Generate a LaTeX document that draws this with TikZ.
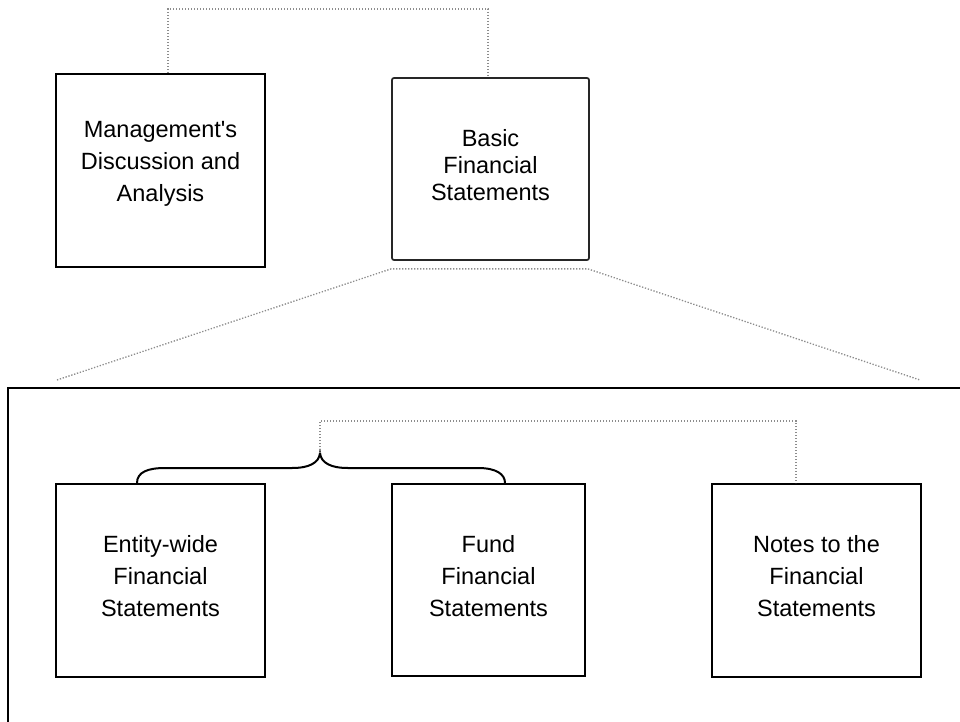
\documentclass[tikz,border=0pt]{standalone}
\usepackage{fontspec}
\setmainfont{Liberation Sans}[Ligatures=TeXOff]
\usetikzlibrary{calc}
\begin{document}
\begin{tikzpicture}[x=1pt,y=-1pt,
  box/.style={draw=black, line width=2pt, rectangle, inner sep=0pt},
  txt/.style={align=center, inner sep=0pt, font=\fontsize{23.5}{32}\selectfont},
  conn/.style={draw=black!45, line width=1.3pt, dash pattern=on 1.3pt off 1.7pt},
  bracestyle/.style={draw=black, line width=2pt}]
\useasboundingbox (0,0) rectangle (960,722);
\clip (0,0) rectangle (960,722);
\fill[white] (0,0) rectangle (960,722);
% big frame
\draw[line width=2pt] (8,388) rectangle (1000,780);
% top boxes
\node[box, minimum width=209pt, minimum height=193pt] (mda) at (160.5,170.5) {};
\node[txt] (mdat) at (160.5,164) {Management's\\Discussion and\\Analysis};
\node[box, draw=black!85, line width=1.7pt, rounded corners=2pt, minimum width=197pt, minimum height=182pt] (basic) at (490.5,169) {};
\node[txt, font=\fontsize{23.5}{27}\selectfont] (basict) at (490.5,165.5) {Basic\\Financial\\Statements};
% bottom boxes
\node[box, minimum width=209pt, minimum height=193pt] (entity) at (160.5,580.5) {};
\node[txt] (entityt) at (160.5,576.5) {Entity-wide\\Financial\\Statements};
\node[box, minimum width=193pt, minimum height=192pt] (fund) at (488.5,580) {};
\node[txt] (fundt) at (488.5,576.5) {Fund\\Financial\\Statements};
\node[box, minimum width=209pt, minimum height=193pt] (notes) at (816.5,580.5) {};
\node[txt] (notest) at (816.5,576.5) {Notes to the\\Financial\\Statements};
% top dotted connector
\draw[conn] ([xshift=7.5pt]mda.north) -- ++(0,-64) -| ([xshift=-2.5pt]basic.north);
% zoom lines
\coordinate (zl) at ([yshift=-8pt]basic.south west);
\coordinate (zr) at ([yshift=-8pt,xshift=-2pt]basic.south east);
\coordinate (fl) at (57,380);
\coordinate (fr) at (920,380);
\draw[conn] (fl) -- (zl) -- (zr) -- (fr);
% brace
\coordinate (bl) at (entity.north -| 137,0);
\coordinate (br) at (fund.north -| 505,0);
\coordinate (tip) at (320,453);
\draw[bracestyle] (bl) .. controls (137,472) and (148,468) .. (165,468) -- (292,468)
  .. controls (309,468) and (319,463) .. (tip)
  .. controls (321,463) and (331,468) .. (348,468) -- (478,468)
  .. controls (496,468) and (505,474) .. (br);
% dotted from brace to notes
\draw[conn] (tip) -- (320,421) -| ([xshift=-20.5pt]notes.north);
\end{tikzpicture}
\end{document}
